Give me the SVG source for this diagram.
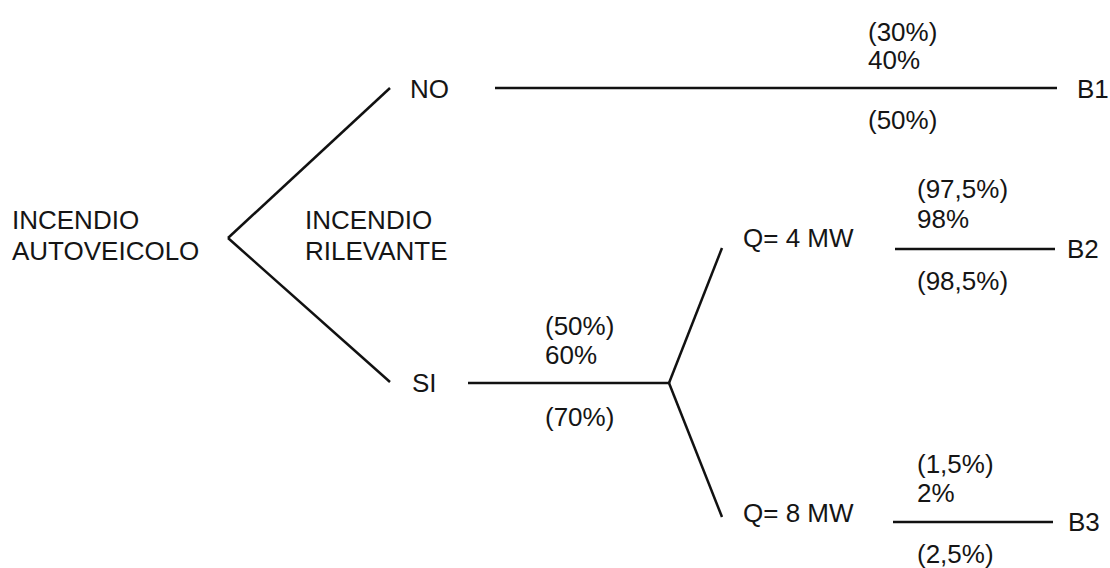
<svg xmlns="http://www.w3.org/2000/svg" width="1110" height="568" viewBox="0 0 1110 568">
<style>
text{font-family:"Liberation Sans",Arial,sans-serif;font-size:26px;fill:#151515}
.c line{stroke:#111;stroke-width:2.5;stroke-linecap:butt}
</style>
<rect width="1110" height="568" fill="#fff"/>
<g class="c" id="connectors">
<line x1="228" y1="238" x2="390" y2="88"/>
<line x1="228" y1="238" x2="390" y2="382"/>
<line x1="495" y1="88" x2="1057" y2="88"/>
<line x1="468" y1="383" x2="669" y2="383"/>
<line x1="669" y1="383" x2="722" y2="248"/>
<line x1="669" y1="383" x2="722" y2="517"/>
<line x1="895" y1="249" x2="1055" y2="249"/>
<line x1="893" y1="522" x2="1053" y2="522"/>
</g>
<g id="root"><text x="12" y="229">INCENDIO</text><text x="12" y="260">AUTOVEICOLO</text></g>
<g id="question"><text x="305" y="229">INCENDIO</text><text x="305" y="260">RILEVANTE</text></g>
<g id="no"><text x="410" y="98">NO</text></g>
<g id="si"><text x="412" y="392">SI</text></g>
<g id="no-prob"><text x="868" y="41">(30%)</text><text x="868" y="69">40%</text><text x="868" y="129">(50%)</text></g>
<g id="b1"><text x="1077" y="98">B1</text></g>
<g id="si-prob"><text x="545" y="335">(50%)</text><text x="545" y="364">60%</text><text x="545" y="426">(70%)</text></g>
<g id="q4"><text x="743" y="247">Q= 4 MW</text></g>
<g id="q4-prob"><text x="917" y="198">(97,5%)</text><text x="917" y="228">98%</text><text x="917" y="290">(98,5%)</text></g>
<g id="b2"><text x="1067" y="258">B2</text></g>
<g id="q8"><text x="743" y="522">Q= 8 MW</text></g>
<g id="q8-prob"><text x="917" y="473">(1,5%)</text><text x="917" y="502">2%</text><text x="917" y="563">(2,5%)</text></g>
<g id="b3"><text x="1068" y="531">B3</text></g>
</svg>
